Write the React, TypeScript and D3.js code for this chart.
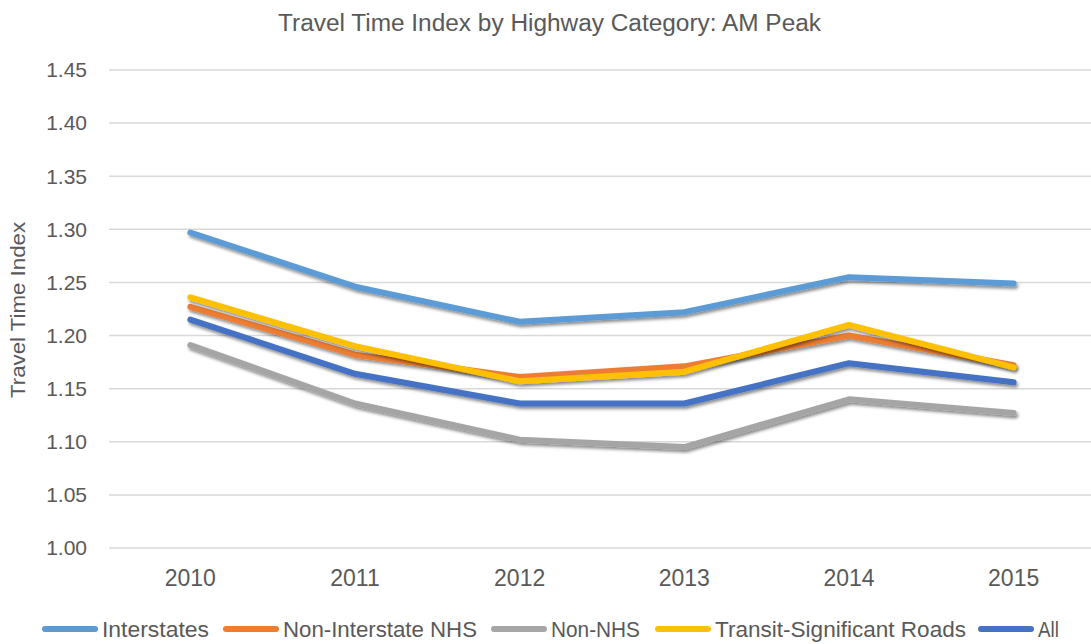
import React, { useRef, useEffect } from "react";
import * as d3 from "d3";

const years = ["2010", "2011", "2012", "2013", "2014", "2015"];
const yTicks = [1.0, 1.05, 1.1, 1.15, 1.2, 1.25, 1.3, 1.35, 1.4, 1.45];

const interstates = [1.297, 1.246, 1.213, 1.222, 1.255, 1.249];
const nonInterstateNHS = [1.227, 1.182, 1.161, 1.171, 1.2, 1.172];
const nonNHS = [1.191, 1.136, 1.102, 1.095, 1.14, 1.127];
const transitRoads = [1.236, 1.19, 1.157, 1.166, 1.21, 1.17];
const allRoads = [1.215, 1.164, 1.136, 1.136, 1.174, 1.156];

const seriesNames = [
  "Interstates",
  "Non-Interstate NHS",
  "Non-NHS",
  "Transit-Significant Roads",
  "All",
];
const seriesColors = ["#5B9BD5", "#ED7D31", "#A5A5A5", "#FFC000", "#4472C4"];

const W = 1091,
  H = 644;

const App = () => {
  const svgRef = useRef<SVGSVGElement>(null);

  useEffect(() => {
    const svg = d3.select(svgRef.current);
    svg.selectAll("*").remove();

    const seriesData = [interstates, nonInterstateNHS, nonNHS, transitRoads, allRoads];
    const sans = "'Liberation Sans', Arial, sans-serif";

    // drop shadow for the lines
    const defs = svg.append("defs");
    const f = defs
      .append("filter")
      .attr("id", "shadow")
      .attr("x", "-10%")
      .attr("y", "-30%")
      .attr("width", "120%")
      .attr("height", "160%");
    f.append("feDropShadow")
      .attr("dx", 1.5)
      .attr("dy", 2.5)
      .attr("stdDeviation", 1.8)
      .attr("flood-color", "#000")
      .attr("flood-opacity", 0.45);

    // scales
    const x = d3.scaleBand().domain(years).range([108, 1096]);
    const y = d3.scaleLinear().domain([1.0, 1.45]).range([548, 70]);

    // title
    svg
      .append("text")
      .attr("x", 278)
      .attr("y", 31)
      .attr("textLength", 543)
      .attr("lengthAdjust", "spacingAndGlyphs")
      .style("font-family", sans)
      .style("font-size", "23px")
      .style("fill", "#595959")
      .text("Travel Time Index by Highway Category: AM Peak");

    // gridlines
    svg
      .append("g")
      .selectAll("line")
      .data(yTicks)
      .enter()
      .append("line")
      .attr("x1", 109)
      .attr("x2", W)
      .attr("y1", (d) => y(d))
      .attr("y2", (d) => y(d))
      .attr("stroke", "#D9D9D9")
      .attr("stroke-width", 1.5);

    // y tick labels
    svg
      .append("g")
      .selectAll("text")
      .data(yTicks)
      .enter()
      .append("text")
      .attr("x", 87)
      .attr("y", (d) => y(d))
      .attr("dy", "0.35em")
      .attr("text-anchor", "end")
      .style("font-family", sans)
      .style("font-size", "21px")
      .style("fill", "#595959")
      .text((d) => d3.format(".2f")(d));

    // y axis title
    svg
      .append("text")
      .attr("transform", `translate(25,310) rotate(-90)`)
      .attr("text-anchor", "middle")
      .attr("textLength", 176)
      .attr("lengthAdjust", "spacingAndGlyphs")
      .style("font-family", sans)
      .style("font-size", "20px")
      .style("fill", "#595959")
      .text("Travel Time Index");

    // x tick labels
    svg
      .append("g")
      .selectAll("text")
      .data(years)
      .enter()
      .append("text")
      .attr("x", (d) => (x(d) as number) + x.bandwidth() / 2)
      .attr("y", 586)
      .attr("text-anchor", "middle")
      .style("font-family", sans)
      .style("font-size", "23px")
      .style("fill", "#595959")
      .text((d) => d);

    // lines
    const line = d3
      .line<number>()
      .x((d, i) => (x(years[i]) as number) + x.bandwidth() / 2)
      .y((d) => y(d));

    svg
      .append("g")
      .selectAll("path")
      .data(seriesData)
      .enter()
      .append("path")
      .attr("d", (d) => line(d))
      .attr("fill", "none")
      .attr("stroke", (d, i) => seriesColors[i])
      .attr("stroke-width", 6)
      .attr("stroke-linecap", "round")
      .attr("stroke-linejoin", "round")
      .attr("filter", "url(#shadow)");

    // legend: swatch start and text width for each entry
    const legendX = [42, 223, 491, 655, 978];
    const legendW = [107, 194, 89, 251, 21];
    const lg = svg
      .append("g")
      .selectAll("g")
      .data(seriesNames)
      .enter()
      .append("g")
      .attr("transform", (d, i) => `translate(${legendX[i]},629)`);
    lg.append("line")
      .attr("x1", 3)
      .attr("x2", 53)
      .attr("y1", 0)
      .attr("y2", 0)
      .attr("stroke", (d, i) => seriesColors[i])
      .attr("stroke-width", 6)
      .attr("stroke-linecap", "round");
    lg.append("text")
      .attr("x", 60)
      .attr("y", 8)
      .attr("textLength", (d, i) => legendW[i])
      .attr("lengthAdjust", "spacingAndGlyphs")
      .style("font-family", sans)
      .style("font-size", "22px")
      .style("fill", "#595959")
      .text((d) => d);
  }, []);

  return (
    <svg
      ref={svgRef}
      width={W}
      height={H}
      style={{ position: "absolute", left: 0, top: 0, background: "#fff" }}
    ></svg>
  );
};

export default App;
